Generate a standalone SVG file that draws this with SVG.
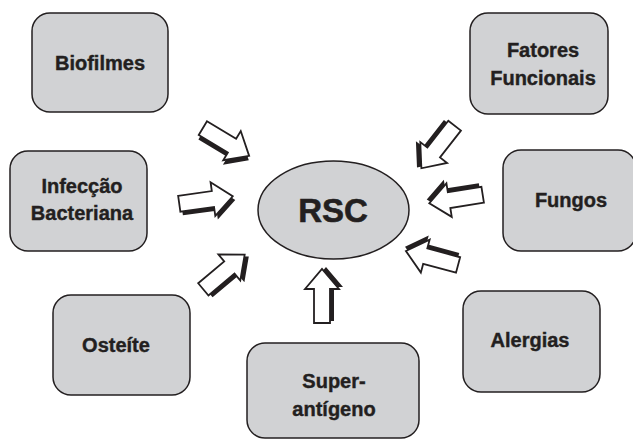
<svg xmlns="http://www.w3.org/2000/svg" width="633" height="440" viewBox="0 0 633 440">
<style>
.box{fill:#d1d2d4;stroke:#231f20;stroke-width:1.5}
.lbl{font-family:"Liberation Sans",Arial,sans-serif;font-weight:bold;font-size:20px;fill:#231f20;stroke:#231f20;stroke-width:0.4;text-anchor:middle}
.big{font-size:33px;stroke-width:0.6}
.sh{fill:#231f20}
.ar{fill:#fff;stroke:#231f20;stroke-width:1.8;stroke-linejoin:miter}
</style>
<defs>
<g id="arrow">
<polygon class="sh" points="-25,-3 9,-3 9,-13 29,4 9,21 9,12 -25,12"/>
<polygon class="ar" points="-27,-8 7,-8 7,-17 27,0 7,17 7,8 -27,8"/>
</g>
</defs>
<rect x="0" y="0" width="633" height="440" fill="#fff"/>
<g id="connectors">
<use href="#arrow" transform="translate(226,142) rotate(31)"/>
<use href="#arrow" transform="translate(206,200) rotate(-8)"/>
<use href="#arrow" transform="translate(224,272) rotate(-40)"/>
<use href="#arrow" transform="translate(322,296) rotate(-90)"/>
<use href="#arrow" transform="translate(432,258) rotate(195)"/>
<use href="#arrow" transform="translate(456,199) rotate(171)"/>
<use href="#arrow" transform="translate(438,147) rotate(128)"/>
</g>
<g id="rsc">
<ellipse class="box" cx="333.5" cy="210" rx="75.5" ry="49"/>
<text class="lbl big" x="333" y="222">RSC</text>
</g>
<g id="biofilmes">
<rect class="box" x="32" y="13" width="136" height="99" rx="18"/>
<text class="lbl" x="100" y="70">Biofilmes</text>
</g>
<g id="infeccao">
<rect class="box" x="10" y="151" width="137" height="100" rx="18"/>
<text class="lbl" x="82" y="193">Infecção</text>
<text class="lbl" x="82" y="220">Bacteriana</text>
</g>
<g id="osteite">
<rect class="box" x="53" y="295" width="137" height="100" rx="18"/>
<text class="lbl" x="116" y="352">Osteíte</text>
</g>
<g id="superantigeno">
<rect class="box" x="247" y="343" width="172" height="95" rx="18"/>
<text class="lbl" x="334" y="388">Super-</text>
<text class="lbl" x="334" y="416">antígeno</text>
</g>
<g id="alergias">
<rect class="box" x="463" y="291" width="137" height="101" rx="18"/>
<text class="lbl" x="530" y="347">Alergias</text>
</g>
<g id="fatores">
<rect class="box" x="470" y="13" width="138" height="101" rx="18"/>
<text class="lbl" x="543" y="57">Fatores</text>
<text class="lbl" x="543" y="85">Funcionais</text>
</g>
<g id="fungos">
<rect class="box" x="503" y="150" width="133" height="101" rx="18"/>
<text class="lbl" x="571" y="207">Fungos</text>
</g>
</svg>
